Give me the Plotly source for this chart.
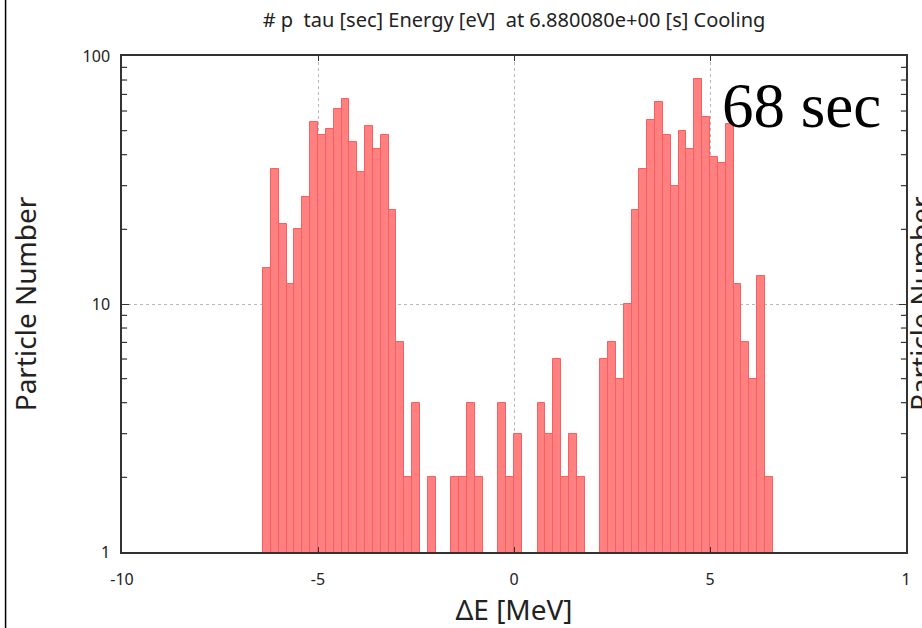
import plotly.graph_objects as go

# Energy-offset histogram: 0.2 MeV bins centred from -6.3 to 6.5 MeV
bin_width = 0.2
bin_centers = [round(-6.3 + bin_width * i, 1) for i in range(65)]

particle_counts = [
    14, 35, 21, 12, 20, 27, 54, 48, 51, 61,      # -6.3 .. -4.5
    67, 45, 34, 52, 42, 48, 24, 7, 2, 4,         # -4.3 .. -2.5
    0, 2, 0, 0, 2, 2, 4, 2, 0, 0,                # -2.3 .. -0.5
    4, 2, 3, 0, 0, 4, 3, 6, 2, 3,                # -0.3 ..  1.5
    2, 0, 0, 6, 7, 5, 10, 24, 35, 55,            #  1.7 ..  3.5
    65, 48, 30, 50, 42, 81, 57, 39, 37, 53,      #  3.7 ..  5.5
    12, 7, 5, 13, 2,                             #  5.7 ..  6.5
]

x_ticks = [-10, -5, 0, 5, 10]
x_tick_text = ["-10", "-5", "0", "5", "1"]
y_ticks = [1, 10, 100]
y_tick_text = ["1", "10", "100"]
y_minor_ticks = [2, 3, 4, 5, 6, 7, 8, 9, 20, 30, 40, 50, 60, 70, 80, 90]

title_text = "# p  tau [sec] Energy [eV]  at 6.880080e+00 [s] Cooling"
x_title = "ΔE [MeV]"
y_title = "Particle Number"
time_label = "68 sec"

sans = "Noto Sans"
ink = "#222222"
frame = "#333333"

fig = go.Figure()
fig.add_trace(go.Bar(
    x=bin_centers,
    y=particle_counts,
    width=bin_width,
    marker=dict(color="rgb(255,128,128)",
                line=dict(color="rgb(255,92,92)", width=1)),
    showlegend=False,
))

fig.update_layout(
    width=922, height=628,
    margin=dict(l=122, r=16, t=56, b=76),
    paper_bgcolor="white",
    plot_bgcolor="white",
    bargap=0,
    font=dict(family=sans, color=ink, size=16),
    title=dict(text=title_text, xref="paper", x=0.5, xanchor="center",
               y=0.968, yanchor="middle",
               font=dict(family=sans, size=20, color=ink)),
)

fig.update_xaxes(
    range=[-10, 10],
    tickmode="array", tickvals=x_ticks, ticktext=x_tick_text,
    ticks="inside", ticklen=5, tickcolor=frame,
    showline=True, linecolor=frame, linewidth=1.5, mirror="ticks",
    showgrid=True, gridcolor="#b8b8b8", griddash="dot", gridwidth=1,
    zeroline=False,
    tickfont=dict(size=16, family=sans, color=ink),
    ticklabelstandoff=12,
    title=dict(text=x_title, font=dict(size=28, family=sans, color=ink), standoff=4),
)

fig.update_yaxes(
    type="log", range=[0, 2],
    tickmode="array", tickvals=y_ticks, ticktext=y_tick_text,
    ticks="inside", ticklen=7, tickcolor=frame,
    showline=True, linecolor=frame, linewidth=1.5, mirror="ticks",
    showgrid=True, gridcolor="#b8b8b8", griddash="dot", gridwidth=1,
    zeroline=False,
    tickfont=dict(size=16, family=sans, color=ink),
    ticklabelstandoff=7,
    title=dict(text=y_title, font=dict(size=28, family=sans, color=ink), standoff=38),
)

# Minor log ticks on both vertical frame edges, pointing inward
for v in y_minor_ticks:
    for x0, x1 in ((0.0, 0.0065), (1.0, 0.9935)):
        fig.add_shape(type="line", xref="paper", yref="y",
                      x0=x0, x1=x1, y0=v, y1=v,
                      line=dict(color=frame, width=1.2))

# Elapsed-time label in the upper right of the plot
fig.add_annotation(
    text=time_label, xref="paper", yref="paper",
    x=0.763, y=0.899, xanchor="left", yanchor="middle", showarrow=False,
    font=dict(family="Liberation Serif", size=63, color="black"),
)

# Neighbouring panel's axis title, cut by the page edge
fig.add_annotation(
    text=y_title, xref="paper", yref="paper",
    x=1.018, y=0.5, xanchor="center", yanchor="middle", textangle=-90,
    showarrow=False, font=dict(family=sans, size=28, color=ink),
)

# Panel divider on the far left
fig.add_shape(type="line", xref="paper", yref="paper",
              x0=-0.1485, x1=-0.1485, y0=-0.2, y1=1.2,
              line=dict(color="black", width=1.5))

fig.write_html("out.html")
